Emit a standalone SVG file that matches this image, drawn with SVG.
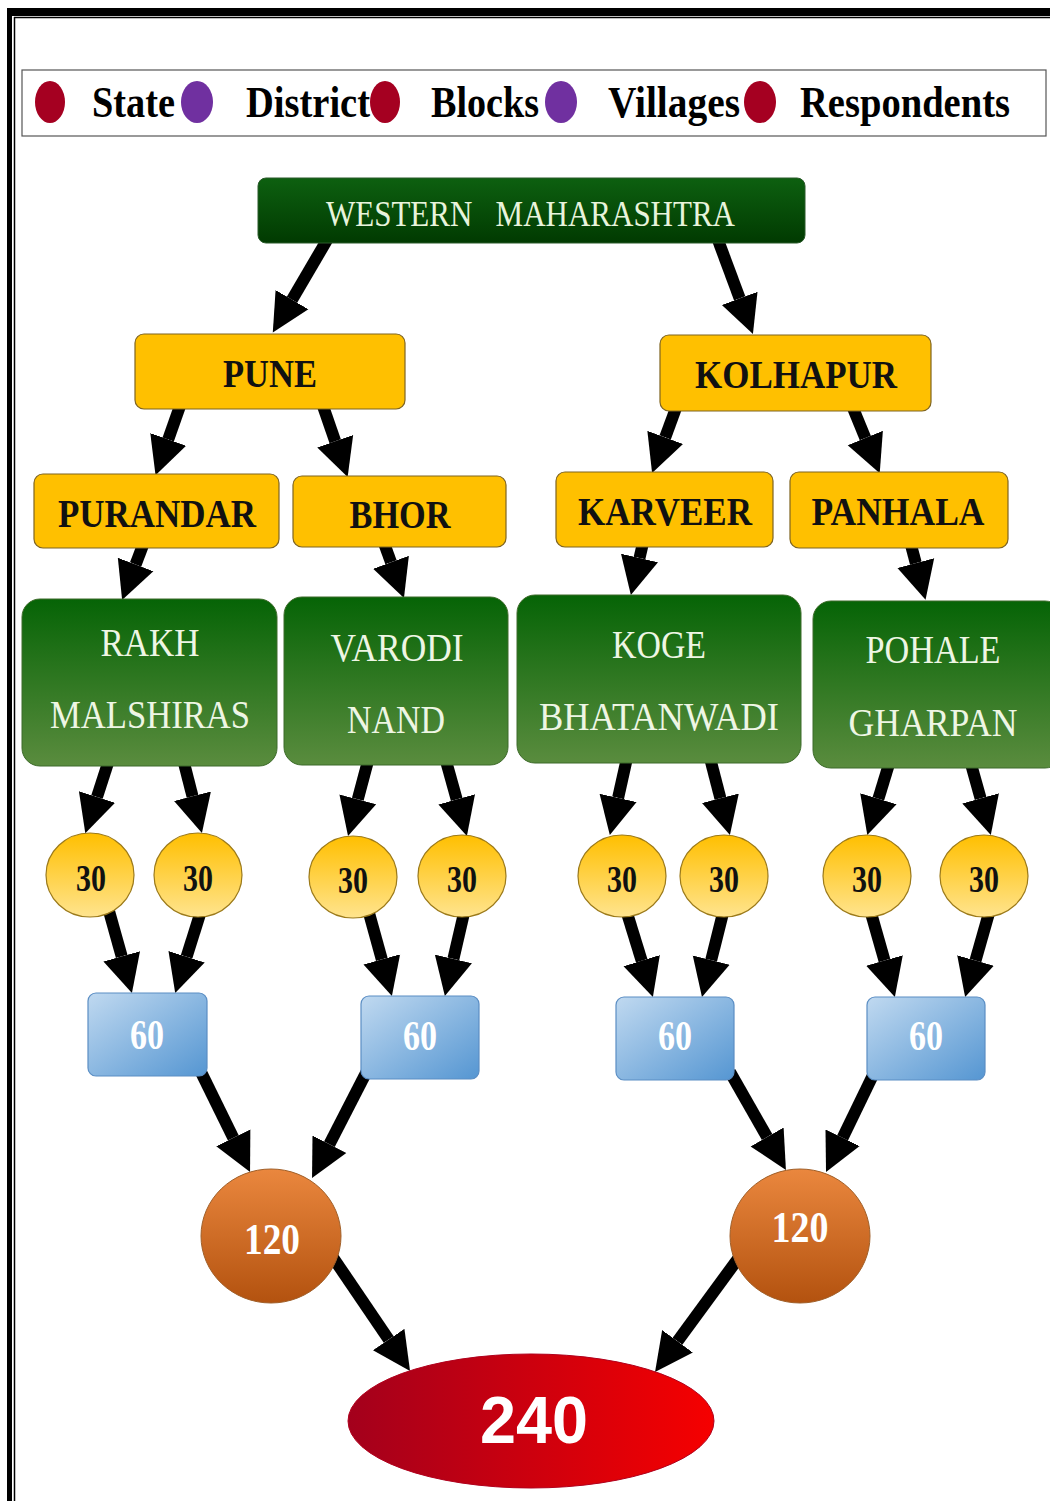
<svg xmlns="http://www.w3.org/2000/svg" width="1050" height="1501" viewBox="0 0 1050 1501">
<style>
.legend{font-family:"Liberation Serif",serif;font-weight:bold;font-size:44px;fill:#000}
.ybox{fill:#ffc000;stroke:#7f6420;stroke-width:1.2}
.ytxt{font-family:"Liberation Serif",serif;font-weight:bold;font-size:40px;fill:#111;text-anchor:middle}
.gbox{fill:url(#gVil);stroke:#3d6b2a;stroke-width:1}
.gtxt{font-family:"Liberation Serif",serif;font-size:40px;fill:#eef6e4;text-anchor:middle}
.c30{fill:url(#gYel);stroke:#9c7a1a;stroke-width:1.2}
.t30{font-family:"Liberation Serif",serif;font-weight:bold;font-size:37px;fill:#111;text-anchor:middle}
.b60{fill:url(#gBlue);stroke:#5b8ec4;stroke-width:1.2}
.t60{font-family:"Liberation Serif",serif;font-weight:bold;font-size:42px;fill:#fff;text-anchor:middle}
.c120{fill:url(#gOra);stroke:#a0602a;stroke-width:1}
.t120{font-family:"Liberation Serif",serif;font-weight:bold;font-size:45px;fill:#fff;text-anchor:middle}
.arr{fill:none;stroke:#000;stroke-width:12;marker-end:url(#ah)}
</style>
<defs>
<linearGradient id="gWM" x1="0" y1="0" x2="0" y2="1"><stop offset="0" stop-color="#0d6010"/><stop offset="1" stop-color="#013a01"/></linearGradient>
<linearGradient id="gVil" x1="0" y1="0" x2="0" y2="1"><stop offset="0" stop-color="#066406"/><stop offset="1" stop-color="#5a8c3e"/></linearGradient>
<linearGradient id="gYel" x1="0" y1="0" x2="0" y2="1"><stop offset="0" stop-color="#ffbf00"/><stop offset="1" stop-color="#ffe48e"/></linearGradient>
<linearGradient id="gBlue" x1="0" y1="0" x2="1" y2="1"><stop offset="0" stop-color="#c0d9f0"/><stop offset="1" stop-color="#5596d2"/></linearGradient>
<linearGradient id="gOra" x1="0" y1="0" x2="0" y2="1"><stop offset="0" stop-color="#ea873e"/><stop offset="1" stop-color="#b3520f"/></linearGradient>
<linearGradient id="gRed" x1="0" y1="0" x2="1" y2="0"><stop offset="0" stop-color="#a3001c"/><stop offset="1" stop-color="#f60000"/></linearGradient>
<marker id="ah" viewBox="0 -20 40 40" markerUnits="userSpaceOnUse" markerWidth="40" markerHeight="40" refX="0" refY="0" orient="auto"><path d="M0,-19 L38,0 L0,19 z" fill="#000"/></marker>
</defs>
<rect width="1050" height="1501" fill="#fff"/>
<g id="frame">
<rect x="7" y="8" width="1043" height="8" fill="#000"/>
<rect x="7" y="8" width="5" height="1493" fill="#000"/>
<line x1="14" y1="17.5" x2="1050" y2="17.5" stroke="#000" stroke-width="1.5"/>
<line x1="14.5" y1="17" x2="14.5" y2="1501" stroke="#000" stroke-width="1.5"/>
</g>
<g id="legend">
<rect x="22" y="70" width="1024" height="66" fill="#fff" stroke="#555" stroke-width="1.2"/>
<ellipse cx="50" cy="102" rx="15" ry="21" fill="#a50021"/>
<text class="legend" x="92" y="117" textLength="83" lengthAdjust="spacingAndGlyphs">State</text>
<ellipse cx="197" cy="102" rx="16" ry="21" fill="#7030a0"/>
<text class="legend" x="246" y="117" textLength="124" lengthAdjust="spacingAndGlyphs">District</text>
<ellipse cx="385" cy="102" rx="15" ry="21" fill="#a50021"/>
<text class="legend" x="431" y="117" textLength="108" lengthAdjust="spacingAndGlyphs">Blocks</text>
<ellipse cx="561" cy="102" rx="16" ry="21" fill="#7030a0"/>
<text class="legend" x="608" y="117" textLength="132" lengthAdjust="spacingAndGlyphs">Villages</text>
<ellipse cx="760" cy="102" rx="16" ry="21" fill="#a50021"/>
<text class="legend" x="800" y="117" textLength="210" lengthAdjust="spacingAndGlyphs">Respondents</text>
</g>
<g id="connectors">
<path class="arr" d="M327,240 L292,299.7"/>
<path class="arr" d="M718,240 L739.7,298.4"/>
<path class="arr" d="M180,406 L168.2,439.4"/>
<path class="arr" d="M323,406 L335.2,441.2"/>
<path class="arr" d="M676,408 L665.2,437.4"/>
<path class="arr" d="M853,408 L865.3,438"/>
<path class="arr" d="M143,545 L135.6,564.5"/>
<path class="arr" d="M384,543 L391,562.3"/>
<path class="arr" d="M643,543 L639.5,558"/>
<path class="arr" d="M911,545 L915.8,563.1"/>
<path class="arr" d="M108,763 L97,797"/>
<path class="arr" d="M184,763 L192.5,796.2"/>
<path class="arr" d="M368,761 L357.8,799.3"/>
<path class="arr" d="M446,761 L456.7,799.4"/>
<path class="arr" d="M627,758 L618.1,797.9"/>
<path class="arr" d="M710,758 L720.4,798.2"/>
<path class="arr" d="M889,764 L878.4,798.7"/>
<path class="arr" d="M971,764 L980.6,798.4"/>
<path class="arr" d="M109,911 L121.7,956.4"/>
<path class="arr" d="M201,911 L186.6,956.8"/>
<path class="arr" d="M369,913 L381.8,959.4"/>
<path class="arr" d="M464,913 L453.4,958.9"/>
<path class="arr" d="M627,913 L641.7,960.7"/>
<path class="arr" d="M723,913 L711.2,960.1"/>
<path class="arr" d="M871,913 L884.5,960.5"/>
<path class="arr" d="M989,913 L975.5,960.5"/>
<path class="arr" d="M198,1066 L233.3,1137.9"/>
<path class="arr" d="M367,1071 L329.4,1144.2"/>
<path class="arr" d="M730,1072 L767.1,1137"/>
<path class="arr" d="M874,1073 L842.6,1137.8"/>
<path class="arr" d="M332,1256 L388.7,1339.5"/>
<path class="arr" d="M740,1256 L677.5,1341.3"/>
</g>
<g id="western-maharashtra">
<rect x="258" y="178" width="547" height="65" rx="8" fill="url(#gWM)" stroke="#2a5a2a" stroke-width="1"/>
<text x="530.5" y="226" font-family="Liberation Serif, serif" font-size="35" fill="#e8f4dc" text-anchor="middle" textLength="409" lengthAdjust="spacingAndGlyphs" xml:space="preserve">WESTERN   MAHARASHTRA</text>
</g>
<g id="pune">
<rect class="ybox" x="135" y="334" width="270" height="75" rx="9"/>
<text class="ytxt" x="270" y="387" textLength="94" lengthAdjust="spacingAndGlyphs">PUNE</text>
</g>
<g id="kolhapur">
<rect class="ybox" x="660" y="335" width="271" height="76" rx="9"/>
<text class="ytxt" x="796" y="388" textLength="202" lengthAdjust="spacingAndGlyphs">KOLHAPUR</text>
</g>
<g id="purandar">
<rect class="ybox" x="34" y="474" width="245" height="74" rx="9"/>
<text class="ytxt" x="157" y="527" textLength="198" lengthAdjust="spacingAndGlyphs">PURANDAR</text>
</g>
<g id="bhor">
<rect class="ybox" x="293" y="476" width="213" height="71" rx="9"/>
<text class="ytxt" x="400" y="528" textLength="101" lengthAdjust="spacingAndGlyphs">BHOR</text>
</g>
<g id="karveer">
<rect class="ybox" x="556" y="472" width="217" height="75" rx="9"/>
<text class="ytxt" x="665" y="525" textLength="174" lengthAdjust="spacingAndGlyphs">KARVEER</text>
</g>
<g id="panhala">
<rect class="ybox" x="790" y="472" width="218" height="76" rx="9"/>
<text class="ytxt" x="898" y="525" textLength="173" lengthAdjust="spacingAndGlyphs">PANHALA</text>
</g>
<g id="rakh-malshiras">
<rect class="gbox" x="22" y="599" width="255" height="167" rx="18"/>
<text class="gtxt" x="150" y="656" textLength="99" lengthAdjust="spacingAndGlyphs">RAKH</text>
<text class="gtxt" x="150" y="728" textLength="200" lengthAdjust="spacingAndGlyphs">MALSHIRAS</text>
</g>
<g id="varodi-nand">
<rect class="gbox" x="284" y="597" width="224" height="168" rx="18"/>
<text class="gtxt" x="397" y="661" textLength="133" lengthAdjust="spacingAndGlyphs">VARODI</text>
<text class="gtxt" x="396" y="733" textLength="98" lengthAdjust="spacingAndGlyphs">NAND</text>
</g>
<g id="koge-bhatanwadi">
<rect class="gbox" x="517" y="595" width="284" height="168" rx="18"/>
<text class="gtxt" x="659" y="658" textLength="94" lengthAdjust="spacingAndGlyphs">KOGE</text>
<text class="gtxt" x="659" y="730" textLength="240" lengthAdjust="spacingAndGlyphs">BHATANWADI</text>
</g>
<g id="pohale-gharpan">
<rect class="gbox" x="813" y="601" width="250" height="167" rx="18"/>
<text class="gtxt" x="933" y="663" textLength="135" lengthAdjust="spacingAndGlyphs">POHALE</text>
<text class="gtxt" x="933" y="736" textLength="169" lengthAdjust="spacingAndGlyphs">GHARPAN</text>
</g>
<g id="r1"><ellipse class="c30" cx="90" cy="875" rx="44" ry="42"/><text class="t30" x="91" y="891" textLength="30" lengthAdjust="spacingAndGlyphs">30</text></g>
<g id="r2"><ellipse class="c30" cx="198" cy="875" rx="44" ry="42"/><text class="t30" x="198" y="891" textLength="30" lengthAdjust="spacingAndGlyphs">30</text></g>
<g id="r3"><ellipse class="c30" cx="353" cy="877" rx="44" ry="41"/><text class="t30" x="353" y="893" textLength="30" lengthAdjust="spacingAndGlyphs">30</text></g>
<g id="r4"><ellipse class="c30" cx="462" cy="876" rx="44" ry="41"/><text class="t30" x="462" y="892" textLength="30" lengthAdjust="spacingAndGlyphs">30</text></g>
<g id="r5"><ellipse class="c30" cx="622" cy="876" rx="44" ry="41"/><text class="t30" x="622" y="892" textLength="30" lengthAdjust="spacingAndGlyphs">30</text></g>
<g id="r6"><ellipse class="c30" cx="724" cy="876" rx="44" ry="41"/><text class="t30" x="724" y="892" textLength="30" lengthAdjust="spacingAndGlyphs">30</text></g>
<g id="r7"><ellipse class="c30" cx="867" cy="876" rx="44" ry="41"/><text class="t30" x="867" y="892" textLength="30" lengthAdjust="spacingAndGlyphs">30</text></g>
<g id="r8"><ellipse class="c30" cx="984" cy="876" rx="44" ry="41"/><text class="t30" x="984" y="892" textLength="30" lengthAdjust="spacingAndGlyphs">30</text></g>
<g id="s1"><rect class="b60" x="88" y="993" width="119" height="83" rx="8"/><text class="t60" x="147" y="1049" textLength="34" lengthAdjust="spacingAndGlyphs">60</text></g>
<g id="s2"><rect class="b60" x="361" y="996" width="118" height="83" rx="8"/><text class="t60" x="420" y="1050" textLength="34" lengthAdjust="spacingAndGlyphs">60</text></g>
<g id="s3"><rect class="b60" x="616" y="997" width="118" height="83" rx="8"/><text class="t60" x="675" y="1050" textLength="34" lengthAdjust="spacingAndGlyphs">60</text></g>
<g id="s4"><rect class="b60" x="867" y="997" width="118" height="83" rx="8"/><text class="t60" x="926" y="1050" textLength="34" lengthAdjust="spacingAndGlyphs">60</text></g>
<g id="d1"><ellipse class="c120" cx="271" cy="1236" rx="70" ry="67"/><text class="t120" x="272" y="1254" textLength="56" lengthAdjust="spacingAndGlyphs">120</text></g>
<g id="d2"><ellipse class="c120" cx="800" cy="1236" rx="70" ry="67"/><text class="t120" x="800" y="1242" textLength="57" lengthAdjust="spacingAndGlyphs">120</text></g>
<g id="total">
<ellipse cx="531" cy="1421" rx="183" ry="67" fill="url(#gRed)" stroke="#b0001c" stroke-width="1"/>
<text x="534" y="1443" font-family="Liberation Sans, sans-serif" font-weight="bold" font-size="66" fill="#fff" text-anchor="middle" textLength="108" lengthAdjust="spacingAndGlyphs">240</text>
</g>
</svg>
